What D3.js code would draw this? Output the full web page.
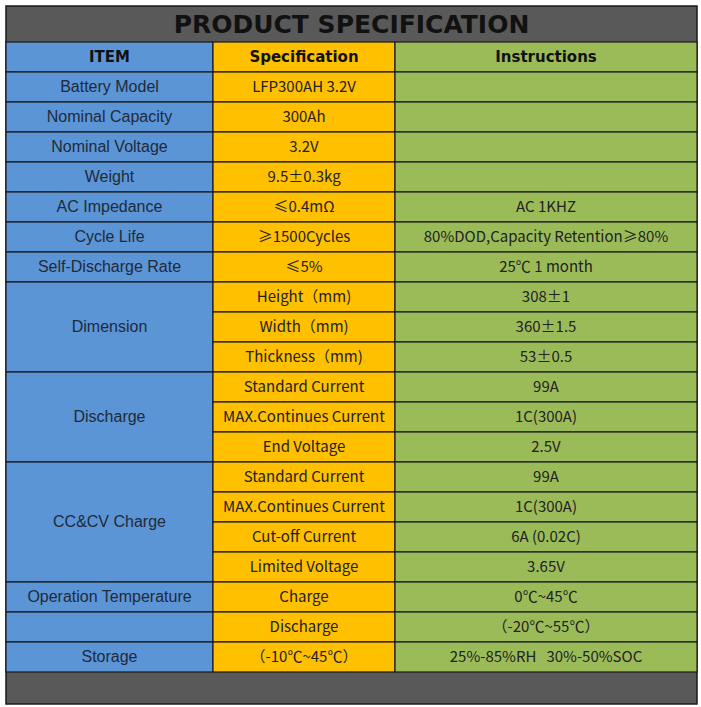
<!DOCTYPE html>
<html><head><meta charset="utf-8">
<script src="https://cdn.jsdelivr.net/npm/d3@7"></script>
<style>body{margin:0;background:#fff}</style></head>
<body><svg id="c" width="701" height="707"></svg>
<script>
const title = "PRODUCT SPECIFICATION";
const headers = ["ITEM", "Specification", "Instructions"];
const items = [["Battery Model",1],["Nominal Capacity",1],["Nominal Voltage",1],["Weight",1],["AC Impedance",1],["Cycle Life",1],["Self-Discharge Rate",1],["Dimension",3],["Discharge",3],["CC&CV Charge",4],["Operation Temperature",1],["",1],["Storage",1]];
const specs = ["LFP300AH 3.2V","300Ah","3.2V","9.5±0.3kg","≤0.4mΩ","≥1500Cycles","≤5%","Height（mm)","Width（mm)","Thickness（mm)","Standard Current","MAX.Continues Current","End Voltage","Standard Current","MAX.Continues Current","Cut-off Current","Limited Voltage","Charge","Discharge","（-10℃~45℃）"];
const instructions = ["","","","","AC 1KHZ","80%DOD,Capacity Retention≥80%","25℃ 1 month","308±1","360±1.5","53±0.5","99A","1C(300A)","2.5V","99A","1C(300A)","6A (0.02C)","3.65V","0℃~45℃","（-20℃~55℃）","25%-85%RH   30%-50%SOC"];

const svg = d3.select("#c");
const L=6,R=697, colEdges=[6,213,395,697];
const y = d3.scaleBand().domain(d3.range(specs.length)).range([72,672]).padding(0);
const rh = y.bandwidth();
const line = "#1a1a1a";
// frame
svg.append("rect").attr("x",L).attr("y",6).attr("width",R-L).attr("height",698).attr("fill","#595959").attr("stroke",line).attr("stroke-width",1.5);
svg.append("text").attr("x",(L+R)/2).attr("y",33).attr("text-anchor","middle").attr("font-family","DejaVu Sans").attr("font-weight","bold").attr("font-size",25).attr("fill","#111").text(title);
const fills=["#5b95d6","#ffc000","#9bbb59"];
// header
headers.forEach((h,i)=>{
  svg.append("rect").attr("x",colEdges[i]).attr("y",42).attr("width",colEdges[i+1]-colEdges[i]).attr("height",30).attr("fill",fills[i]).attr("stroke",line).attr("stroke-width",1.2);
  svg.append("text").attr("x",(colEdges[i]+colEdges[i+1])/2).attr("y",62).attr("text-anchor","middle").attr("font-family","DejaVu Sans").attr("font-weight","bold").attr("font-size",15).attr("fill","#111").text(h);
});
// items
let r=0;
items.forEach(([t,span])=>{
  const y0=y(r), h=rh*span;
  svg.append("rect").attr("x",colEdges[0]).attr("y",y0).attr("width",colEdges[1]-colEdges[0]).attr("height",h).attr("fill",fills[0]).attr("stroke",line).attr("stroke-width",1.2);
  svg.append("text").attr("x",(colEdges[0]+colEdges[1])/2).attr("y",y0+h/2-1).attr("dy","0.35em").attr("text-anchor","middle").attr("font-family","Liberation Sans, Arial").attr("font-size",16).attr("fill","#1f2a3a").text(t);
  r+=span;
});
[specs,instructions].forEach((arr,k)=>{
  arr.forEach((t,i)=>{
    svg.append("rect").attr("x",colEdges[k+1]).attr("y",y(i)).attr("width",colEdges[k+2]-colEdges[k+1]).attr("height",rh).attr("fill",fills[k+1]).attr("stroke",line).attr("stroke-width",1.2);
    svg.append("text").attr("x",(colEdges[k+1]+colEdges[k+2])/2).attr("y",y(i)+rh/2).attr("dy","0.35em").attr("text-anchor","middle").attr("font-family","Noto Sans CJK SC, Noto Sans").attr("font-size",15).attr("fill","#222").attr("xml:space","preserve").style("white-space","pre").text(t);
  });
});
</script></body></html>
